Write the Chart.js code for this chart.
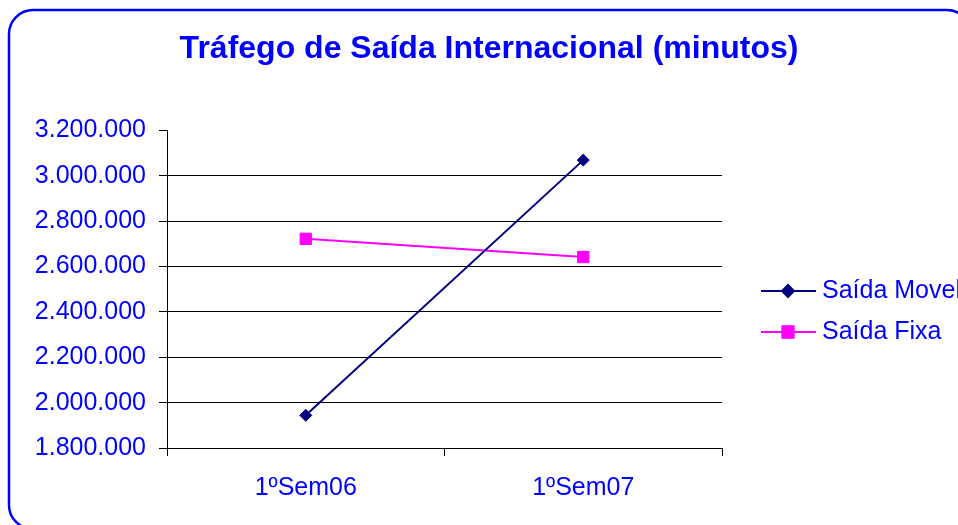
<!DOCTYPE html>
<html lang="pt">
  <head>
    <meta charset="UTF-8" />
    <title>Tráfego de Saída Internacional</title>
    <style>
      html, body { margin: 0; padding: 0; background: #fff; }
      #wrap { width: 958px; height: 525px; position: relative; }
    </style>
  </head>
  <body>
    <div id="wrap">
      <canvas id="myChart" width="958" height="525"></canvas>
    </div>
    <script src="https://cdn.jsdelivr.net/npm/chart.js"></script>
    <script>
      const categories = ["1ºSem06", "1ºSem07"];
      const saidaMovel = [1944000, 3069000];
      const saidaFixa = [2722000, 2642000];
      const seriesNames = ["Saída Movel", "Saída Fixa"];
      // eixo Y
      const yMin = 1800000;
      const yMax = 3200000;
      const yStep = 200000;

      const FONT = "'Liberation Sans', Arial, sans-serif";
      const BLUE = "#0000FF";

      // 3200000 -> "3.200.000"
      const fmt = (v) => String(Math.round(v)).replace(/\B(?=(\d{3})+(?!\d))/g, ".");

      //moldura arredondada em volta de tudo
      const frame = {
        id: "frame",
        beforeDraw: (chart) => {
          const ctx = chart.ctx;
          ctx.save();
          ctx.fillStyle = "#fff";
          ctx.fillRect(0, 0, chart.width, chart.height);
          ctx.strokeStyle = BLUE;
          ctx.lineWidth = 2.5;
          ctx.beginPath();
          ctx.roundRect(9, 10, 962, 519, 24);
          ctx.stroke();
          ctx.restore();
        },
      };

      //legenda com linha + marcador, como no Excel
      const lineLegend = {
        id: "lineLegend",
        afterDraw: (chart) => {
          const ctx = chart.ctx;
          const area = chart.chartArea;
          const x0 = area.right + 39;
          ctx.save();
          chart.data.datasets.forEach((ds, i) => {
            const y = 291 + i * 41;
            ctx.strokeStyle = ds.borderColor;
            ctx.lineWidth = ds.borderWidth;
            ctx.beginPath();
            ctx.moveTo(x0, y);
            ctx.lineTo(x0 + 55, y);
            ctx.stroke();
            Chart.helpers.drawPoint(ctx, {
              pointStyle: ds.pointStyle,
              radius: ds.pointRadius,
              borderWidth: 1,
              rotation: 0,
            }, x0 + 27, y);
            ctx.fillStyle = ds.pointBackgroundColor;
            ctx.strokeStyle = ds.pointBorderColor;
            ctx.lineWidth = 1;
            ctx.fill();
            ctx.stroke();
            ctx.fillStyle = BLUE;
            ctx.font = "25px " + FONT;
            ctx.textBaseline = "middle";
            ctx.textAlign = "left";
            ctx.fillText(ds.label, x0 + 61, y);
          });
          ctx.restore();
        },
      };

      const ctx = document.getElementById("myChart").getContext("2d");

      let myChart = new Chart(ctx, {
        type: "line",
        plugins: [frame, lineLegend],
        data: {
          labels: categories,
          datasets: [
            {
              label: seriesNames[0],
              data: saidaMovel,
              borderColor: "#000080",
              borderWidth: 2,
              pointStyle: "rectRot",
              pointRadius: 6,
              pointBackgroundColor: "#000080",
              pointBorderColor: "#000080",
              pointBorderWidth: 1,
              tension: 0,
            },
            {
              label: seriesNames[1],
              data: saidaFixa,
              borderColor: "#FF00FF",
              borderWidth: 2,
              pointStyle: "rect",
              pointRadius: 8,
              pointBackgroundColor: "#FF00FF",
              pointBorderColor: "#FF00FF",
              pointBorderWidth: 1,
              tension: 0,
            },
          ],
        },
        options: {
          responsive: false,
          animation: false,
          events: [],
          layout: { padding: { left: 20, right: 0, top: 0, bottom: 0 } },
          plugins: {
            legend: { display: false },
            tooltip: { enabled: false },
            title: {
              display: true,
              text: "Tráfego de Saída Internacional (minutos)",
              color: BLUE,
              font: { family: FONT, size: 32, weight: "bold" },
              padding: { top: 30, bottom: 62 },
            },
          },
          scales: {
            x: {
              offset: true,
              grid: {
                offset: true,
                drawOnChartArea: false,
                tickLength: 8,
                tickColor: "#000",
              },
              border: { display: true, color: "#000", width: 1 },
              ticks: {
                color: BLUE,
                padding: 17,
                font: { family: FONT, size: 25 },
                maxRotation: 0,
              },
              afterFit: (s) => { s.height = 77; },
            },
            y: {
              min: yMin,
              max: yMax,
              grid: {
                color: (c) => (c.tick && c.tick.value === yMax ? "rgba(0,0,0,0)" : "#000"),
                tickColor: "#000",
                tickLength: 8,
                lineWidth: 1,
              },
              border: { display: true, color: "#000", width: 1 },
              ticks: {
                stepSize: yStep,
                color: BLUE,
                padding: 13,
                font: { family: FONT, size: 25 },
                callback: (v) => fmt(v),
              },
              afterFit: (s) => { s.width = 147; },
            },
            // espaço reservado para a legenda à direita
            legendSpace: {
              type: "linear",
              position: "right",
              grid: { display: false },
              border: { display: false },
              ticks: { display: false },
              afterFit: (s) => { s.width = 236; },
            },
          },
        },
      });
    </script>
  </body>
</html>
